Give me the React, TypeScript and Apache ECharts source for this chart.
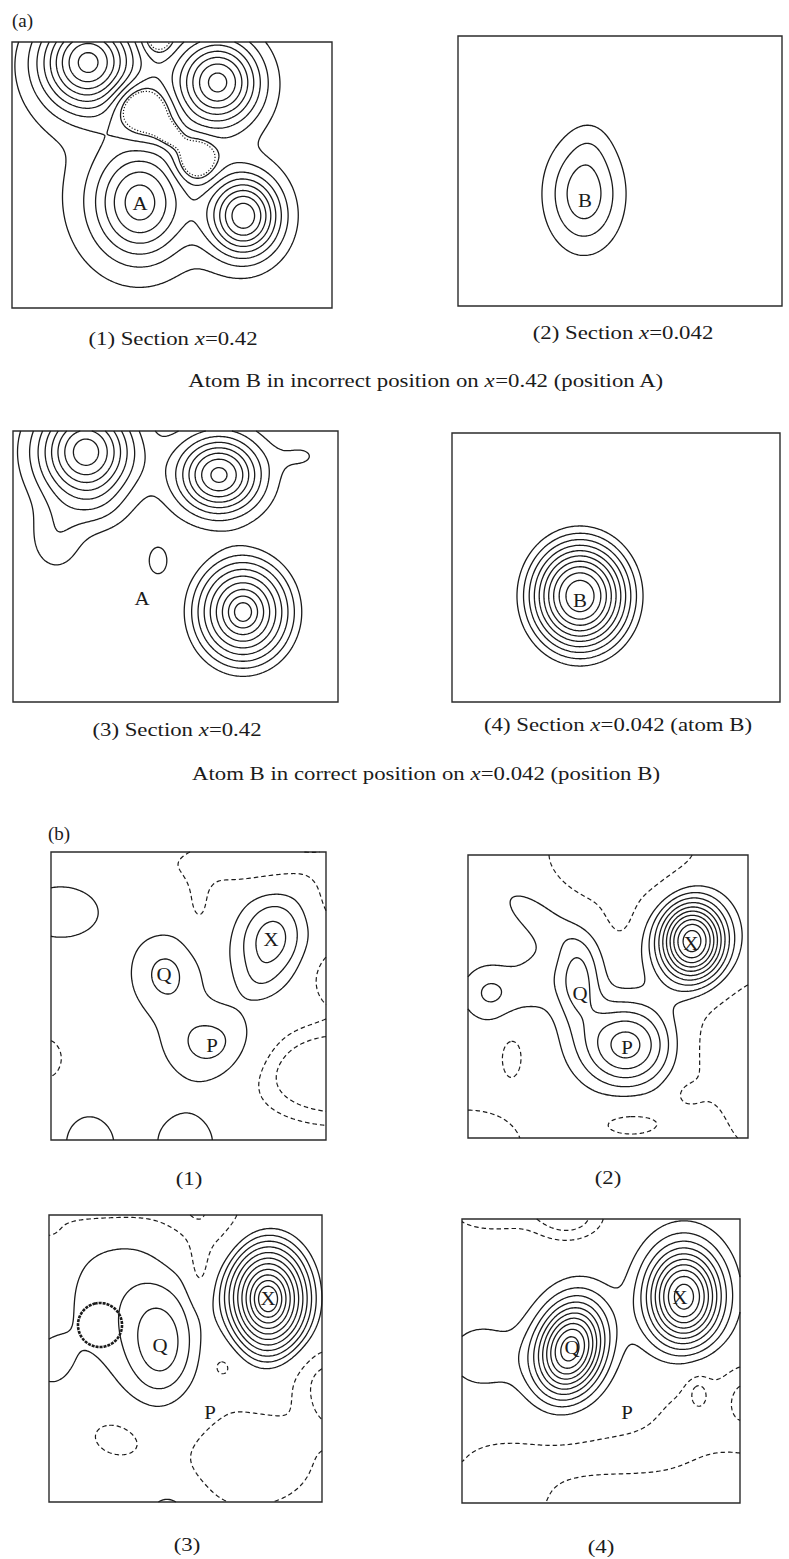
import React, { useEffect, useRef } from "react";
import * as echarts from "echarts";

// Each peak: [x, y, height, sizeX, sizeY, tiltDeg, profile] in map grid units, origin top-left.
// profile 0 (default): gaussian with sigmas sizeX/sizeY; profile 1: rounded cone with radii sizeX/sizeY.
type Peak = number[];
type LineStyle = "solid" | "dashed" | "dotted" | "bold";

/* ---------------- (a) sections ---------------- */
const a1Peaks: Peak[] = [
  [76, 20, 9.0, 33, 33],
  [206, 40, 8.0, 29, 30],
  [128, 161, 5.7, 32, 38],
  [232, 174, 8.3, 25, 28],
  [120, 140, 0.9, 100, 100],
  [130, 68, -3.4, 20, 16, 30],
  [157, 92, -2.2, 12, 7, 40],
  [184, 118, -3.0, 13, 14],
  [146, -2, -1.8, 10, 10],
];
const a1Levels = [1, 2, 3, 4, 5, 6, 7, 8, 9];
const a1Dotted = [0.6];
const a1Labels: (number | string)[][] = [[128, 161, "A"]];

const a2Peaks: Peak[] = [
  [126, 158, 3.7, 26, 38],
  [132, 108, 0.5, 14, 18],
];
const a2Levels = [1, 2, 3];
const a2Labels: (number | string)[][] = [[127, 164, "B"]];

const a3Peaks: Peak[] = [
  [73, 21, 8.6, 33, 34],
  [206, 44, 8.3, 29.5, 27],
  [230, 181, 10.4, 63, 69, 0, 1],
  [145, 130, 1.25, 12.7, 18.7],
  [43, 108, 1.6, 20, 26],
  [85, 80, 0.8, 22, 18],
  [290, 25, 1.0, 18, 12],
];
const a3Levels = [1, 2, 3, 4, 5, 6, 7, 8, 9];
const a3Labels: (number | string)[][] = [[129, 167, "A"]];

const a4Peaks: Peak[] = [[128, 163, 12.9, 36.9, 41]];
const a4Levels = [3, 4, 5, 6, 7, 8, 9, 10, 11, 12];
const a4Labels: (number | string)[][] = [[128, 167, "B"]];

/* ---------------- (b) difference maps ---------------- */
const b1Peaks: Peak[] = [
  [220, 88, 3.57, 24.4, 32, 15],
  [208, 128, 0.6, 14, 14],
  [114, 122, 2.25, 26, 30],
  [161, 193, 2.45, 35, 28],
  [10, 60, 1.6, 38, 26],
  [38, 292, 1.5, 25, 30],
  [135, 290, 1.5, 30, 30],
  [200, 12, -2.0, 60, 15],
  [148, 50, -1.3, 10, 26],
  [290, 42, -2.2, 18, 25],
  [285, 125, -2.2, 18, 20],
  [290, 222, -4.5, 55, 30],
  [-5, 207, -1.6, 16, 20],
];
const b1Levels = [1, 2, 3];
const b1Dashed = [-1, -2];
const b1Labels: (number | string)[][] = [
  [220, 87, "X"],
  [113, 122, "Q"],
  [161, 193, "P"],
];

const b2Peaks: Peak[] = [
  [224, 86, 10.95, 24, 29],
  [159, 190, 5.6, 34, 30],
  [110, 125, 3.3, 16, 30],
  [22, 138, 2.15, 22, 22],
  [70, 60, 1.6, 40, 18, 35],
  [70, 125, 1.2, 18, 25],
  [155, 0, -2.5, 55, 40],
  [152, 55, -1.2, 10, 22],
  [285, 190, -2.8, 50, 47],
  [282, 262, -1.3, 14, 25],
  [218, 238, -0.9, 12, 10],
  [0, 292, -1.6, 55, 38],
  [163, 268, -1.4, 32, 14],
  [44, 200, -1.4, 11, 21],
];
const b2Levels = [1, 2, 3, 4, 5, 6, 7, 8, 9, 10];
const b2Dashed = [-1];
const b2Labels: (number | string)[][] = [
  [223, 88, "X"],
  [112, 138, "Q"],
  [159, 192, "P"],
];

const b3Peaks: Peak[] = [
  [219, 84, 13.25, 56, 75, 0, 1],
  [113, 133, 2.9, 25, 40],
  [75, 85, 1.6, 50, 58],
  [0, 150, 1.0, 20, 25],
  [178, 135, -0.7, 18, 35],
  [172, 152, -0.9, 7, 7],
  [60, -10, -2.0, 85, 18],
  [0, 20, -0.9, 20, 10],
  [152, 15, -1.4, 28, 28],
  [150, 58, -1.4, 8, 22],
  [200, 245, -1.9, 55, 40],
  [270, 160, -1.2, 25, 25],
  [290, 185, -2.5, 20, 25],
  [66, 223, -1.5, 24, 17, 15],
  [121, 300, 1.8, 20, 22],
];
const b3Levels = [1, 2, 3, 4, 5, 6, 7, 8, 9, 10, 11];
const b3Dashed = [-1, -2];
const b3Void: Peak[] = [[51, 110, -1, 18.7, 18.7]];
const b3VoidLevel = [-0.5];
const b3Labels: (number | string)[][] = [
  [219, 83, "X"],
  [111, 130, "Q"],
  [161, 197, "P"],
];

const b4Peaks: Peak[] = [
  [222, 78, 10.7, 26.7, 35],
  [108, 130, 10.7, 24, 34, 15],
  [20, 139, 1.7, 30, 28],
  [30, -8, -2.2, 30, 14],
  [105, -5, -3.0, 25, 18],
  [140, 300, -2.7, 250, 58],
  [40, 290, 1.0, 40, 25],
  [0, 262, 0.5, 20, 20],
  [290, 262, -0.8, 35, 25],
  [245, 180, -1.2, 38, 40],
  [236, 172, -1.2, 8, 12],
  [285, 178, -1.4, 14, 22],
];
const b4Levels = [1, 2, 3, 4, 5, 6, 7, 8, 9, 10];
const b4Dashed = [-1, -2];
const b4Labels: (number | string)[][] = [
  [218, 78, "X"],
  [110, 128, "Q"],
  [165, 193, "P"],
];

/* ---------------- texts ---------------- */
const headings = ["(a)", "(b)"];
const captions = [
  "(1) Section {i|x}=0.42",
  "(2) Section {i|x}=0.042",
  "(3) Section {i|x}=0.42",
  "(4) Section {i|x}=0.042 (atom B)",
  "(1)",
  "(2)",
  "(3)",
  "(4)",
];
const notes = [
  "Atom B in incorrect position on {i|x}=0.42 (position A)",
  "Atom B in correct position on {i|x}=0.042 (position B)",
];

/* ---------------- layout ---------------- */
const FONT = '"Liberation Serif", "Times New Roman", serif';
const INK = "#1b1b1b";

interface Layer {
  peaks: Peak[];
  levels: number[];
  style: LineStyle;
  maxSpan?: number; // keep only closed pockets smaller than this
}
interface Panel {
  box: number[]; // left, top, width, height on the page
  size: number[]; // map extent in grid units
  layers: Layer[];
  labels: (number | string)[][];
}

const panels: Panel[] = [
  {
    box: [12, 42, 320, 266],
    size: [320, 266],
    layers: [
      { peaks: a1Peaks, levels: a1Levels, style: "solid" },
      { peaks: a1Peaks, levels: a1Dotted, style: "dotted", maxSpan: 160 },
    ],
    labels: a1Labels,
  },
  {
    box: [458, 36, 324, 270],
    size: [324, 270],
    layers: [{ peaks: a2Peaks, levels: a2Levels, style: "solid" }],
    labels: a2Labels,
  },
  {
    box: [13, 431, 325, 271],
    size: [325, 271],
    layers: [{ peaks: a3Peaks, levels: a3Levels, style: "solid" }],
    labels: a3Labels,
  },
  {
    box: [452, 433, 328, 269],
    size: [328, 269],
    layers: [{ peaks: a4Peaks, levels: a4Levels, style: "solid" }],
    labels: a4Labels,
  },
  {
    box: [51, 852, 275, 288],
    size: [275, 288],
    layers: [
      { peaks: b1Peaks, levels: b1Levels, style: "solid" },
      { peaks: b1Peaks, levels: b1Dashed, style: "dashed" },
    ],
    labels: b1Labels,
  },
  {
    box: [468, 855, 280, 283],
    size: [280, 283],
    layers: [
      { peaks: b2Peaks, levels: b2Levels, style: "solid" },
      { peaks: b2Peaks, levels: b2Dashed, style: "dashed" },
    ],
    labels: b2Labels,
  },
  {
    box: [49, 1215, 273, 287],
    size: [273, 287],
    layers: [
      { peaks: b3Peaks, levels: b3Levels, style: "solid" },
      { peaks: b3Peaks, levels: b3Dashed, style: "dashed" },
      { peaks: b3Void, levels: b3VoidLevel, style: "bold" },
    ],
    labels: b3Labels,
  },
  {
    box: [462, 1219, 278, 284],
    size: [278, 284],
    layers: [
      { peaks: b4Peaks, levels: b4Levels, style: "solid" },
      { peaks: b4Peaks, levels: b4Dashed, style: "dashed" },
    ],
    labels: b4Labels,
  },
];

const captionPos = [
  [173, 339],
  [623, 333],
  [177, 730],
  [618, 725],
  [189, 1179],
  [608, 1178],
  [187, 1545],
  [601, 1547],
];
const notePos = [
  [426, 381],
  [426, 774],
];
const headingPos = [
  [12, 20],
  [48, 833],
];

const STROKES: Record<LineStyle, any> = {
  solid: { lineWidth: 1.3 },
  dashed: { lineWidth: 1.2, lineDash: [4.5, 3] },
  dotted: { lineWidth: 1.2, lineDash: [1.2, 1.8] },
  bold: { lineWidth: 2.6, lineDash: [3, 1] },
};

/* ---------------- density field and contour tracing ---------------- */
interface Grid {
  g: Float64Array;
  nx: number;
  ny: number;
  hx: number;
  hy: number;
}

const CONE_SOFT = 0.08;

function sampleField(peaks: Peak[], W: number, H: number, step = 1.25): Grid {
  const nx = Math.round(W / step) + 1;
  const ny = Math.round(H / step) + 1;
  const hx = W / (nx - 1);
  const hy = H / (ny - 1);
  const pre = peaks.map((p) => {
    const t = ((p[5] || 0) * Math.PI) / 180;
    const cone = p[6] === 1;
    return {
      cx: p[0],
      cy: p[1],
      h: p[2],
      ax: cone ? 1 / (p[3] * p[3]) : 1 / (2 * p[3] * p[3]),
      ay: cone ? 1 / (p[4] * p[4]) : 1 / (2 * p[4] * p[4]),
      c: Math.cos(t),
      s: Math.sin(t),
      cone,
    };
  });
  const g = new Float64Array(nx * ny);
  for (let j = 0; j < ny; j++) {
    const y = j * hy;
    for (let i = 0; i < nx; i++) {
      const x = i * hx;
      let v = 0;
      for (const q of pre) {
        const dx = x - q.cx;
        const dy = y - q.cy;
        const u = dx * q.c + dy * q.s;
        const w = -dx * q.s + dy * q.c;
        const r2 = u * u * q.ax + w * w * q.ay;
        if (q.cone) {
          const z = (1 - Math.sqrt(r2)) / CONE_SOFT;
          const sp = z > 30 ? z : Math.log1p(Math.exp(z));
          v += q.h * CONE_SOFT * sp;
        } else {
          v += q.h * Math.exp(-r2);
        }
      }
      g[j * nx + i] = v;
    }
  }
  return { g, nx, ny, hx, hy };
}

function isolines(grid: Grid, level: number): number[][][] {
  const { g, nx, ny, hx, hy } = grid;
  const pts = new Map<number, number[]>();
  const segs: number[] = [];
  const put = (id: number, x: number, y: number) => {
    if (!pts.has(id)) pts.set(id, [x, y]);
    return id;
  };
  for (let j = 0; j < ny - 1; j++) {
    for (let i = 0; i < nx - 1; i++) {
      const k = j * nx + i;
      const v0 = g[k];
      const v1 = g[k + 1];
      const v2 = g[k + nx + 1];
      const v3 = g[k + nx];
      const b0 = v0 >= level;
      const b1 = v1 >= level;
      const b2 = v2 >= level;
      const b3 = v3 >= level;
      if (b0 === b1 && b1 === b2 && b2 === b3) continue;
      const x0 = i * hx;
      const y0 = j * hy;
      const top = b0 !== b1 ? put(k * 2, x0 + (hx * (level - v0)) / (v1 - v0), y0) : -1;
      const right = b1 !== b2 ? put((k + 1) * 2 + 1, x0 + hx, y0 + (hy * (level - v1)) / (v2 - v1)) : -1;
      const bottom = b3 !== b2 ? put((k + nx) * 2, x0 + (hx * (level - v3)) / (v2 - v3), y0 + hy) : -1;
      const left = b0 !== b3 ? put(k * 2 + 1, x0, y0 + (hy * (level - v0)) / (v3 - v0)) : -1;
      if (top >= 0 && right >= 0 && bottom >= 0 && left >= 0) {
        const centre = (v0 + v1 + v2 + v3) / 4 >= level;
        if (centre === b0) segs.push(top, right, bottom, left);
        else segs.push(left, top, right, bottom);
      } else {
        const e = [top, right, bottom, left].filter((q) => q >= 0);
        segs.push(e[0], e[1]);
      }
    }
  }
  const n = segs.length / 2;
  const adj = new Map<number, number[]>();
  for (let s = 0; s < n; s++) {
    for (const node of [segs[2 * s], segs[2 * s + 1]]) {
      const l = adj.get(node);
      if (l) l.push(s);
      else adj.set(node, [s]);
    }
  }
  const used = new Uint8Array(n);
  const lines: number[][][] = [];
  const walk = (s0: number, node0: number) => {
    const line = [pts.get(node0)!];
    let s = s0;
    let node = node0;
    while (s >= 0) {
      used[s] = 1;
      node = segs[2 * s] === node ? segs[2 * s + 1] : segs[2 * s];
      line.push(pts.get(node)!);
      s = -1;
      for (const t of adj.get(node)!) {
        if (!used[t]) {
          s = t;
          break;
        }
      }
    }
    return line;
  };
  adj.forEach((l, node) => {
    if (l.length === 1 && !used[l[0]]) lines.push(walk(l[0], node));
  });
  for (let s = 0; s < n; s++) if (!used[s]) lines.push(walk(s, segs[2 * s]));
  return lines.filter((l) => l.length > 2);
}

function span(line: number[][]) {
  let x0 = Infinity, x1 = -Infinity, y0 = Infinity, y1 = -Infinity;
  for (const p of line) {
    if (p[0] < x0) x0 = p[0];
    if (p[0] > x1) x1 = p[0];
    if (p[1] < y0) y0 = p[1];
    if (p[1] > y1) y1 = p[1];
  }
  return Math.max(x1 - x0, y1 - y0);
}

/* ---------------- chart option ---------------- */
function buildOption() {
  const grid: any[] = [];
  const xAxis: any[] = [];
  const yAxis: any[] = [];
  const series: any[] = [];

  panels.forEach((p, gi) => {
    grid.push({
      left: p.box[0],
      top: p.box[1],
      width: p.box[2],
      height: p.box[3],
      show: true,
      borderColor: "#2b2b2b",
      borderWidth: 1.4,
      backgroundColor: "transparent",
    });
    xAxis.push({ type: "value", gridIndex: gi, min: 0, max: p.size[0], show: false });
    yAxis.push({ type: "value", gridIndex: gi, min: 0, max: p.size[1], inverse: true, show: false });

    const cache = new Map<Peak[], Grid>();
    p.layers.forEach((layer) => {
      let fieldGrid = cache.get(layer.peaks);
      if (!fieldGrid) {
        fieldGrid = sampleField(layer.peaks, p.size[0], p.size[1]);
        cache.set(layer.peaks, fieldGrid);
      }
      const fg = fieldGrid;
      let lines = layer.levels.flatMap((lv) => isolines(fg, lv));
      if (layer.maxSpan) {
        const lim = layer.maxSpan;
        lines = lines.filter((l) => span(l) < lim);
      }
      const stroke = STROKES[layer.style];
      series.push({
        type: "custom",
        xAxisIndex: gi,
        yAxisIndex: gi,
        silent: true,
        data: lines.map((l) => l[0]),
        renderItem: (params: any, api: any) => ({
          type: "polyline",
          shape: { points: lines[params.dataIndex].map((q) => api.coord(q)) },
          style: { fill: "none", stroke: INK, ...stroke },
        }),
      });
    });

    series.push({
      type: "custom",
      xAxisIndex: gi,
      yAxisIndex: gi,
      silent: true,
      data: p.labels.map((l) => [l[0], l[1]]),
      renderItem: (params: any, api: any) => {
        const item = p.labels[params.dataIndex];
        const c = api.coord([item[0], item[1]]);
        return {
          type: "text",
          x: c[0],
          y: c[1],
          scaleX: 1.1,
          style: {
            text: String(item[2]),
            fontSize: 19,
            fontFamily: FONT,
            fill: INK,
            align: "center",
            verticalAlign: "middle",
            textAlign: "center",
            textVerticalAlign: "middle",
          },
        };
      },
    });
  });

  const textEl = (text: string, x: number, y: number, align: string, stretch: number) => ({
    type: "text",
    x,
    y,
    scaleX: stretch,
    silent: true,
    style: {
      text,
      fontSize: 19,
      fontFamily: FONT,
      fill: INK,
      align,
      verticalAlign: "middle",
      textAlign: align,
      textVerticalAlign: "middle",
      rich: { i: { fontStyle: "italic", fontSize: 19, fontFamily: FONT, fill: INK } },
    },
  });

  const graphic: any[] = [];
  headings.forEach((t, i) => graphic.push(textEl(t, headingPos[i][0], headingPos[i][1], "left", 1)));
  captions.forEach((t, i) => graphic.push(textEl(t, captionPos[i][0], captionPos[i][1], "center", 1.2)));
  notes.forEach((t, i) => graphic.push(textEl(t, notePos[i][0], notePos[i][1], "center", 1.2)));

  return {
    animation: false,
    backgroundColor: "#ffffff",
    textStyle: { fontFamily: FONT },
    grid,
    xAxis,
    yAxis,
    series,
    graphic,
  };
}

export default function App() {
  const ref = useRef<HTMLDivElement>(null);
  useEffect(() => {
    const chart = echarts.init(ref.current!, undefined, { renderer: "svg" });
    chart.setOption(buildOption());
    return () => chart.dispose();
  }, []);
  return (
    <div
      ref={ref}
      style={{ position: "absolute", left: 0, top: 0, width: 789, height: 1559, background: "#fff" }}
    />
  );
}
